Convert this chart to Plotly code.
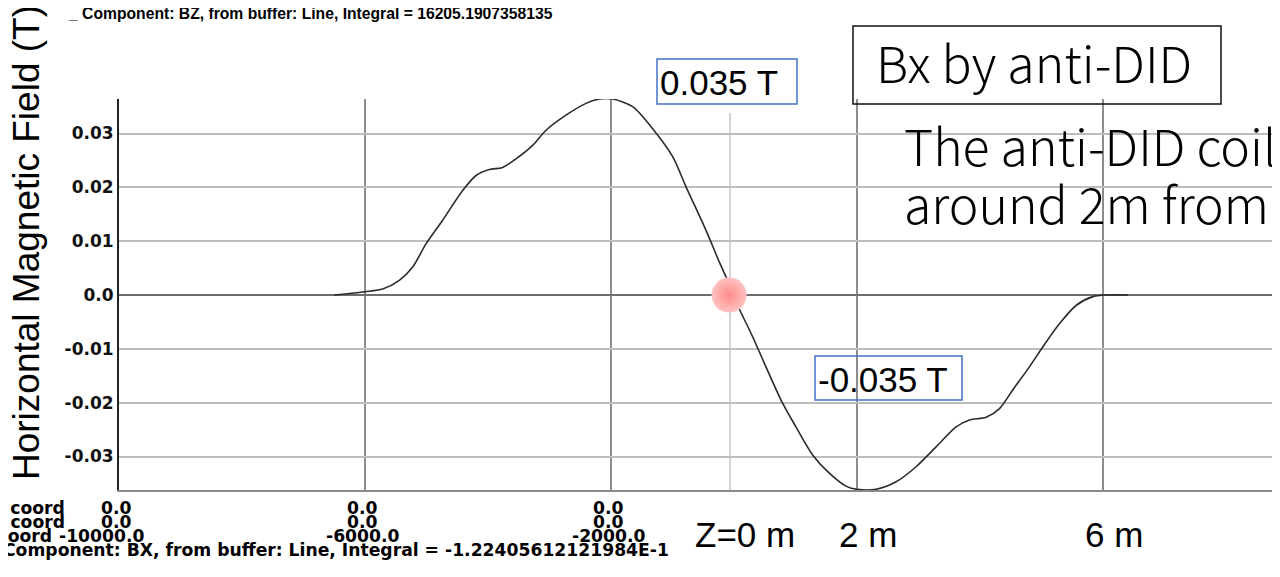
import plotly.graph_objects as go

# ---------------- data ----------------
z_mm = [-6500, -6000, -5713, -5442, -5225, -5008, -4737, -4412, -4195, -3978,
        -3762, -3545, -3274, -3057, -2732, -2407, -2190, -1973, -1648, -1323,
        -997, -780, -455, -238, -103,
        84, 301, 518, 790, 1007, 1278, 1550, 1821, 2000, 2309, 2635, 2961,
        3286, 3612, 3829, 4100, 4317, 4535, 4806, 5023, 5294, 5566, 5837,
        6054, 6407]
bx_T = [0.0000, 0.0006, 0.0011, 0.0027, 0.0052, 0.0095, 0.0139, 0.0194, 0.0222, 0.0233,
        0.0237, 0.0253, 0.0278, 0.0306, 0.0334, 0.0356, 0.0364, 0.0364, 0.0350, 0.0309,
        0.0257, 0.0201, 0.0120, 0.0061, 0.0027,
        -0.0025, -0.0077, -0.0133, -0.0201, -0.0245, -0.0297, -0.0331, -0.0355, -0.0361,
        -0.0361, -0.0347, -0.0319, -0.0282, -0.0245, -0.0232, -0.0227, -0.0211, -0.0176,
        -0.0133, -0.0096, -0.0053, -0.0019, -0.0003, 0.0000, 0.0000]

ytick_vals = [0.03, 0.02, 0.01, 0.0, -0.01, -0.02, -0.03]
ytick_text = ["0.03", "0.02", "0.01", "0.0", "-0.01", "-0.02", "-0.03"]
grid_z = [-6000, -2000, 2000, 6000]

coord_cols_z = [-10000, -6000, -2000]
coord_rows = ["X coord", "Y coord", "Z coord"]
coord_values = [["0.0", "0.0", "0.0"],
                ["0.0", "0.0", "0.0"],
                ["-10000.0", "-6000.0", "-2000.0"]]
bz_caption = "_ Component: BZ, from buffer: Line, Integral = 16205.1907358135"
bx_caption = "Component: BX, from buffer: Line, Integral = -1.22405612121984E-1"

z_label_pos = [0, 2000, 6000]
z_label_text = ["Z=0 m", "2 m", "6 m"]

origin_z = [-80]
origin_b = [0.0]

peak_label = "0.035 T"
trough_label = "-0.035 T"
title_text = "Bx by anti-DID"
note_lines = ["The anti-DID coil", "around 2m from t"]
ytitle = "Horizontal Magnetic Field (T)"

# ---------------- geometry helpers ----------------
# The page has a default 8px body margin, so the figure is drawn 8px
# right/down of the window origin. Work in window pixels and convert.
OFF = 8
W, H = 1280, 577
PLOT_L, PLOT_T, PLOT_B = 119, 99, 490          # window pixels
L = PLOT_L - OFF
T = PLOT_T - OFF
B = H - (PLOT_B - OFF)
R = 0
PW, PH = W - L - R, H - T - B


def px(x):
    return (x - OFF - L) / PW


def py(y):
    return (H - B - (y - OFF)) / PH


ARIAL = "Liberation Sans, Arial, sans-serif"
BOLD = "DejaVu Sans, Verdana, sans-serif"
JP = "Noto Sans CJK JP, Noto Sans, sans-serif"
SMALL = 17.2

fig = go.Figure()

fig.add_trace(go.Scatter(
    x=z_mm, y=bx_T, mode="lines",
    line=dict(color="#2b2b2b", width=1.6, shape="spline", smoothing=0.8),
    hoverinfo="skip", showlegend=False))

fig.add_trace(go.Scatter(
    x=origin_z, y=origin_b, mode="markers",
    marker=dict(size=35, color="#ffc2c2",
                gradient=dict(type="radial", color="#ff8a8a"),
                line=dict(width=0)),
    hoverinfo="skip", showlegend=False))

shapes = []
shapes.append(dict(type="line", xref="paper", yref="paper",
                   x0=px(730), x1=px(730), y0=py(490), y1=py(113),
                   line=dict(color="#a8a8a8", width=1), layer="below"))
shapes.append(dict(type="rect", xref="paper", yref="paper",
                   x0=px(853), x1=px(1221), y0=py(104), y1=py(26),
                   line=dict(color="#111111", width=1.5)))
shapes.append(dict(type="rect", xref="paper", yref="paper",
                   x0=px(657), x1=px(797), y0=py(104), y1=py(59),
                   line=dict(color="#4472C4", width=1.5)))
shapes.append(dict(type="rect", xref="paper", yref="paper",
                   x0=px(815), x1=px(962), y0=py(400), y1=py(356),
                   line=dict(color="#4472C4", width=1.5)))

ann = []
ann.append(dict(text=ytitle, xref="paper", yref="paper", x=px(26), y=py(243),
                xanchor="center", yanchor="middle", textangle=-90, showarrow=False,
                font=dict(family=ARIAL, size=37, color="#000")))
ann.append(dict(text=bz_caption, xref="paper", yref="paper", x=px(66), y=py(13),
                xanchor="left", yanchor="middle", showarrow=False,
                font=dict(family=ARIAL, size=15.7, color="#000", weight="bold")))
row_y = [508, 522, 536]
label_right = [67, 67, 54]
for r, (lab, vals) in enumerate(zip(coord_rows, coord_values)):
    ann.append(dict(text=lab, xref="paper", yref="paper", x=px(label_right[r]), y=py(row_y[r]),
                    xanchor="right", yanchor="middle", showarrow=False,
                    font=dict(family=BOLD, size=SMALL, color="#000", weight="bold")))
    for c, (zc, v) in enumerate(zip(coord_cols_z, vals)):
        if r == 2 and c == 0:
            ann.append(dict(text=v, xref="paper", yref="paper", x=px(57), y=py(row_y[r]),
                            xanchor="left", yanchor="middle", showarrow=False,
                            font=dict(family=BOLD, size=SMALL, color="#000", weight="bold")))
        else:
            ann.append(dict(text=v, xref="x", yref="paper", x=zc, y=py(row_y[r]),
                            xanchor="center", yanchor="middle", showarrow=False, xshift=-3,
                            font=dict(family=BOLD, size=SMALL, color="#000", weight="bold")))
ann.append(dict(text=bx_caption, xref="paper", yref="paper", x=px(1), y=py(550),
                xanchor="left", yanchor="middle", showarrow=False,
                font=dict(family=BOLD, size=SMALL, color="#000", weight="bold")))
for zp, zt in zip(z_label_pos, z_label_text):
    ann.append(dict(text=zt, xref="x", yref="paper", x=zp, y=py(534),
                    xanchor="center", yanchor="middle", showarrow=False, xshift=11,
                    font=dict(family=ARIAL, size=35, color="#000")))
ann.append(dict(text=peak_label, xref="paper", yref="paper", x=px(658), y=py(82),
                xanchor="left", yanchor="middle", showarrow=False,
                font=dict(family=ARIAL, size=35, color="#000")))
ann.append(dict(text=trough_label, xref="paper", yref="paper", x=px(816), y=py(379),
                xanchor="left", yanchor="middle", showarrow=False,
                font=dict(family=ARIAL, size=35, color="#000")))
ann.append(dict(text=title_text, xref="paper", yref="paper", x=px(1034), y=py(61),
                xanchor="center", yanchor="middle", showarrow=False,
                font=dict(family=JP, size=50, color="#000", weight=300)))
for i, line in enumerate(note_lines):
    ann.append(dict(text=line, xref="paper", yref="paper", x=px(902), y=py(144 + 58 * i),
                    xanchor="left", yanchor="middle", showarrow=False,
                    font=dict(family=JP, size=50, color="#000", weight=300)))

fig.update_layout(
    width=W, height=H,
    margin=dict(l=L, r=R, t=T, b=B, pad=0),
    paper_bgcolor="white", plot_bgcolor="white",
    shapes=shapes, annotations=ann, showlegend=False,
    xaxis=dict(range=[-10000, -10000 + PW / 0.0615], tickvals=grid_z,
               showticklabels=False, ticks="", showgrid=True,
               gridcolor="#8c8c8c", gridwidth=1.6, zeroline=False,
               showline=True, linecolor="#8a8a8a", linewidth=2),
    yaxis=dict(range=[-0.03622, 0.03641], tickvals=ytick_vals, ticktext=ytick_text,
               ticks="", showgrid=True, gridcolor="#bdbdbd", gridwidth=1.6,
               zeroline=True, zerolinecolor="#6e6e6e", zerolinewidth=2,
               showline=True, linecolor="#222222", linewidth=2,
               tickfont=dict(family=BOLD, size=17, color="#111", weight="bold")),
)

fig.write_html("out.html")
